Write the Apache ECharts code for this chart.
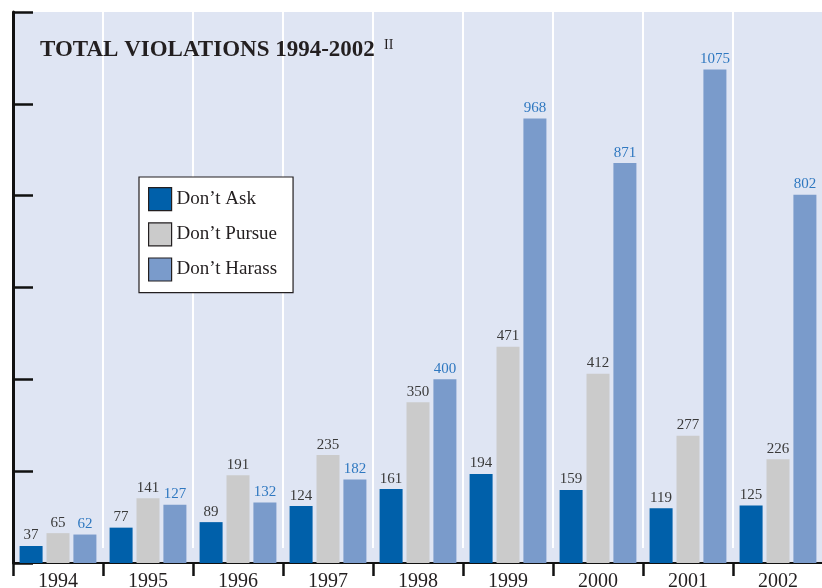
<!DOCTYPE html>
<html>
<head>
<meta charset="utf-8">
<title>Total Violations 1994-2002</title>
<script src="https://cdn.jsdelivr.net/npm/echarts@6/dist/echarts.min.js"></script>
<style>
	html, body {
		margin: 0;
		padding: 0;
		background: #ffffff;
	}
	#violationschart {
		width: 822px;
		height: 588px;
	}
</style>
</head>
<body>
<div id="violationschart"></div>
<script>
	// data
	var years = ['1994', '1995', '1996', '1997', '1998', '1999', '2000', '2001', '2002'];
	var seriesNames = ['Don’t Ask', 'Don’t Pursue', 'Don’t Harass'];
	var dontAsk = [37, 77, 89, 124, 161, 194, 159, 119, 125];
	var dontPursue = [65, 141, 191, 235, 350, 471, 412, 277, 226];
	var dontHarass = [62, 127, 132, 182, 400, 968, 871, 1075, 802];
	var yTicks = [0, 200, 400, 600, 800, 1000, 1200];

	var serif = 'Liberation Serif';

	function makeBar(name, data, color, labelcolor) {
		return {
			name: name,
			type: 'bar',
			data: data,
			barWidth: 23,
			barGap: '17%',
			itemStyle: {
				color: color
			},
			label: {
				show: true,
				position: 'top',
				distance: 3,
				fontFamily: serif,
				fontSize: 15,
				color: labelcolor
			}
		};
	}

	var mychart = echarts.init(document.getElementById('violationschart'));
	var myoption = {
		animation: false,
		title: [
			{
				text: 'TOTAL VIOLATIONS 1994-2002',
				left: 35,
				top: 34,
				textStyle: {
					fontFamily: serif,
					fontSize: 23,
					fontWeight: 'bold',
					color: '#231f20'
				}
			},
			{
				text: 'II',
				left: 379,
				top: 33,
				textStyle: {
					fontFamily: serif,
					fontSize: 14,
					fontWeight: 'normal',
					color: '#231f20'
				}
			}
		],
		legend: {
			orient: 'vertical',
			left: 139,
			top: 177,
			padding: [10, 16, 11, 9],
			itemGap: 11,
			itemWidth: 23,
			itemHeight: 23,
			icon: 'rect',
			backgroundColor: '#ffffff',
			borderColor: '#231f20',
			borderWidth: 1.2,
			itemStyle: {
				borderColor: '#231f20',
				borderWidth: 1.2
			},
			textStyle: {
				fontFamily: serif,
				fontSize: 19,
				color: '#231f20'
			},
			data: seriesNames
		},
		grid: [
			{
				left: 13,
				right: -1,
				top: 12,
				bottom: 25,
				outerBoundsMode: 'none',
				show: true,
				backgroundColor: '#dfe5f3',
				borderWidth: 0
			},
			{
				left: 13,
				right: -1,
				top: 10,
				bottom: 40,
				outerBoundsMode: 'none',
				show: false
			}
		],
		xAxis: [
			{
				type: 'category',
				data: years,
				gridIndex: 0,
				axisLine: {
					show: true,
					lineStyle: { color: '#111111', width: 2 }
				},
				axisTick: {
					show: true,
					inside: false,
					length: 13,
					lineStyle: { color: '#111111', width: 2.5 }
				},
				axisLabel: {
					margin: 9,
					fontFamily: serif,
					fontSize: 20,
					color: '#231f20'
				},
				splitLine: { show: false }
			},
			{
				type: 'category',
				data: years,
				gridIndex: 1,
				axisLine: { show: false },
				axisTick: { show: false },
				axisLabel: { show: false },
				splitLine: {
					show: true,
					lineStyle: { color: '#ffffff', width: 2 }
				}
			}
		],
		yAxis: [
			{
				type: 'value',
				gridIndex: 0,
				min: yTicks[0],
				max: yTicks[yTicks.length - 1],
				interval: yTicks[1] - yTicks[0],
				axisLine: {
					show: true,
					lineStyle: { color: '#111111', width: 3 }
				},
				axisTick: {
					show: true,
					inside: true,
					length: 20,
					lineStyle: { color: '#111111', width: 2.5 }
				},
				axisLabel: { show: false },
				splitLine: { show: false }
			},
			{
				type: 'value',
				gridIndex: 1,
				min: 0,
				max: 1200,
				show: false
			}
		],
		series: [
			makeBar(seriesNames[0], dontAsk, '#0060aa', '#3a3a3a'),
			makeBar(seriesNames[1], dontPursue, '#cbcbcb', '#3a3a3a'),
			makeBar(seriesNames[2], dontHarass, '#7a9bcb', '#2f78c0')
		]
	};
	mychart.setOption(myoption);
</script>
</body>
</html>
